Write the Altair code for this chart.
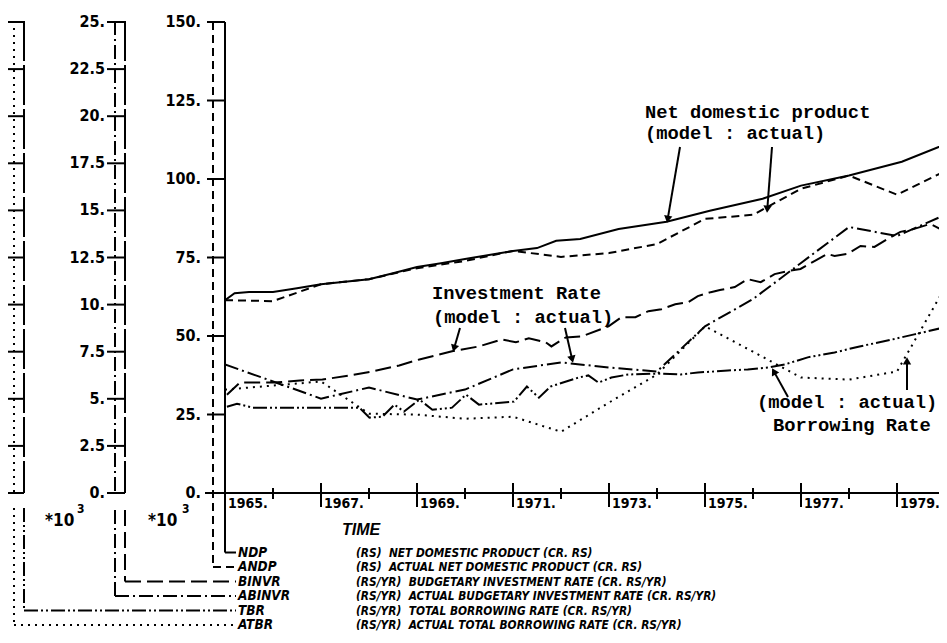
import math
import altair as alt
import pandas as pd

# ---------------- data ----------------
YEARS = list(range(1965, 1981))
ANDP = [61.4, 61.1, 66.5, 68.1, 71.6, 73.9, 77.1, 75.2, 76.4, 79.3, 87.3, 88.6, 96.9, 101.1, 95.0, 102.5]
ABINVR = [6.82, 5.92, 5.01, 5.60, 4.96, 5.49, 6.56, 6.93, 6.66, 6.45, 8.85, 10.29, 12.21, 14.12, 13.64, 14.76]
ATBR = [5.49, 5.70, 5.92, 4.21, 4.16, 3.94, 4.05, 3.25, 4.80, 6.29, 8.85, 7.50, 6.13, 6.02, 6.45, 10.9]

NDP_T = [1965.0, 1965.2, 1965.5, 1966.0, 1966.5, 1967.0, 1967.5, 1968.0, 1968.5, 1969.0, 1969.5,
         1970.0, 1970.5, 1971.0, 1971.5, 1971.9, 1972.4, 1973.2, 1974.2, 1975.1, 1976.2, 1977.0,
         1978.0, 1979.1, 1980.0]
NDP = [61.4, 63.6, 64.0, 64.0, 65.2, 66.5, 67.3, 68.1, 70.0, 72.0, 73.2,
       74.5, 75.8, 77.1, 78.0, 80.3, 80.9, 84.1, 86.4, 89.9, 93.7, 97.9,
       101.1, 105.5, 111.0]

BINVR_T = [1965.04, 1965.31, 1966.0, 1966.56, 1967.03, 1967.59, 1968.07, 1968.63, 1969.05, 1969.73,
           1970.29, 1970.77, 1971.06, 1971.33, 1971.68, 1971.8, 1972.1, 1972.43, 1972.99, 1973.26,
           1973.55, 1973.82, 1974.09, 1974.38, 1974.65, 1974.85, 1975.12, 1975.31, 1975.62, 1975.89,
           1976.16, 1976.45, 1976.72, 1976.99, 1977.28, 1977.55, 1977.7, 1977.97, 1978.24, 1978.53,
           1978.8, 1979.07, 1979.36, 1979.69, 1979.9]
BINVR = [5.22, 5.86, 5.86, 5.97, 6.02, 6.24, 6.45, 6.77, 7.09, 7.52,
         7.78, 8.15, 8.00, 8.21, 8.00, 7.78, 8.26, 8.31, 8.85, 9.33,
         9.33, 9.65, 9.75, 10.02, 10.13, 10.45, 10.66, 10.77, 10.93, 11.35,
         11.19, 11.62, 11.78, 11.89, 12.31, 12.69, 12.58, 12.69, 13.11, 13.06,
         13.48, 13.86, 14.02, 14.28, 14.02]

TBR_T = [1965.04, 1965.25, 1965.58, 1967.8, 1968.01, 1968.28, 1968.53, 1968.73, 1969.05, 1969.32,
         1969.73, 1970.02, 1970.29, 1971.02, 1971.29, 1971.54, 1971.78, 1972.37, 1972.57, 1972.78,
         1973.05, 1973.4, 1974.02, 1974.5, 1974.85, 1975.2, 1975.48, 1975.89, 1976.31, 1976.66,
         1977.14, 1977.7, 1978.22, 1978.73, 1979.36, 1979.9]
TBR = [4.58, 4.74, 4.53, 4.53, 4.00, 4.05, 4.69, 4.32, 4.96, 4.42,
       4.53, 5.22, 4.69, 4.85, 5.65, 5.06, 5.65, 6.13, 6.24, 5.86,
       6.13, 6.29, 6.34, 6.29, 6.40, 6.45, 6.50, 6.56, 6.66, 6.82,
       7.20, 7.46, 7.78, 8.05, 8.42, 8.74]

MAIN_TICKS = [0, 25, 50, 75, 100, 125, 150]
MAIN_TICK_LABELS = ["0.", "25.", "50.", "75.", "100.", "125.", "150."]
SUB_TICKS = [0, 2.5, 5, 7.5, 10, 12.5, 15, 17.5, 20, 22.5, 25]
SUB_TICK_LABELS = ["0.", "2.5", "5.", "7.5", "10.", "12.5", "15.", "17.5", "20.", "22.5", "25."]
MAJOR_YEARS = [1965, 1967, 1969, 1971, 1973, 1975, 1977, 1979]
MAJOR_YEAR_LABELS = ["1965.", "1967.", "1969.", "1971.", "1973.", "1975.", "1977.", "1979."]
MINOR_YEARS = [1966, 1968, 1970, 1972, 1974, 1976, 1978]

LEGEND_NAMES = ["NDP", "ANDP", "BINVR", "ABINVR", "TBR", "ATBR"]
NB = "\u00a0"
LEGEND_DESCS = [
    "(RS)" + NB + NB + "NET DOMESTIC PRODUCT (CR. RS)",
    "(RS)" + NB + NB + "ACTUAL NET DOMESTIC PRODUCT (CR. RS)",
    "(RS/YR)" + NB + NB + "BUDGETARY INVESTMENT RATE (CR. RS/YR)",
    "(RS/YR)" + NB + NB + "ACTUAL BUDGETARY INVESTMENT RATE (CR. RS/YR)",
    "(RS/YR)" + NB + NB + "TOTAL BORROWING RATE (CR. RS/YR)",
    "(RS/YR)" + NB + NB + "ACTUAL TOTAL BORROWING RATE (CR. RS/YR)",
]

# ---------------- layout / style ----------------
W, H = 714, 471
X0, Y0 = 225, 22           # page position of the plot origin


def P(x):
    return x - X0


def Q(y):
    return y - Y0


NARROW = "Liberation Sans Narrow, DejaVu Sans Condensed, Liberation Sans, sans-serif"
MONO = "Liberation Mono, DejaVu Sans Mono, monospace"
STYLE = {
    "NDP": [],
    "ANDP": [8, 5],
    "BINVR": [16, 6],
    "ABINVR": [14, 4, 2, 4],
    "TBR": [14, 3, 2, 3, 2, 3],
    "ATBR": [2, 5],
}

xs = alt.Scale(domain=[1965, 1965 + W / 48.0], nice=False, zero=False)
ysA = alt.Scale(domain=[0, 150], nice=False, zero=False)
ysB = alt.Scale(domain=[0, 25], nice=False, zero=False)
ONE = pd.DataFrame({"a": [0]})


def series(t, v, name, scale):
    df = pd.DataFrame({"t": t, "v": v})
    kw = dict(clip=True, color="black", strokeWidth=2)
    if STYLE[name]:
        kw["strokeDash"] = STYLE[name]
    return alt.Chart(df).mark_line(**kw).encode(
        x=alt.X("t:Q", scale=xs, axis=None),
        y=alt.Y("v:Q", scale=scale, axis=None),
    )


def vrule(x, y1, y2, dash=None, w=2):
    kw = dict(color="black", strokeWidth=w)
    if dash:
        kw["strokeDash"] = dash
    return alt.Chart(ONE).mark_rule(**kw).encode(
        x=alt.value(P(x)), y=alt.value(Q(y1)), y2=alt.value(Q(y2)))


def hrule(y, x1, x2, dash=None, w=2):
    kw = dict(color="black", strokeWidth=w)
    if dash:
        kw["strokeDash"] = dash
    return alt.Chart(ONE).mark_rule(**kw).encode(
        y=alt.value(Q(y)), x=alt.value(P(x1)), x2=alt.value(P(x2)))


def text(s, x, y, size, font=NARROW, weight="bold", style="normal", align="left"):
    return alt.Chart(ONE).mark_text(
        text=s, font=font, fontSize=size, fontWeight=weight, fontStyle=style,
        align=align, baseline="middle", color="black",
    ).encode(x=alt.value(P(x)), y=alt.value(Q(y)))


def arrow(x1, y1, x2, y2):
    dx, dy = x2 - x1, y2 - y1
    ang = math.degrees(math.atan2(dx, -dy)) % 360
    L = math.hypot(dx, dy)
    hx, hy = x2 - dx / L * 5, y2 - dy / L * 5
    line = alt.Chart(ONE).mark_rule(color="black", strokeWidth=2).encode(
        x=alt.value(P(x1)), y=alt.value(Q(y1)), x2=alt.value(P(hx)), y2=alt.value(Q(hy)))
    head = alt.Chart(ONE).mark_point(shape="triangle", filled=True, color="black",
                                     size=70, angle=ang, opacity=1).encode(
        x=alt.value(P(hx)), y=alt.value(Q(hy)))
    return [line, head]


# ---------------- group A: 0-150 scale ----------------
dfA_ticks = pd.DataFrame({"v": MAIN_TICKS, "lab": MAIN_TICK_LABELS})
groupA = alt.layer(
    series(NDP_T, NDP, "NDP", ysA),
    series(YEARS, ANDP, "ANDP", ysA),
    alt.Chart(dfA_ticks).mark_rule(color="black", strokeWidth=2).encode(
        y=alt.Y("v:Q", scale=ysA, axis=None), x=alt.value(P(207)), x2=alt.value(P(225))),
    alt.Chart(dfA_ticks).mark_text(font=NARROW, fontSize=16, fontWeight="bold",
                                   align="right", baseline="middle", color="black").encode(
        y=alt.Y("v:Q", scale=ysA, axis=None), text="lab:N", x=alt.value(P(201))),
)

# ---------------- group B: 0-25 scale ----------------
dfB_ticks = pd.DataFrame({"v": SUB_TICKS, "lab": SUB_TICK_LABELS})
groupB = alt.layer(
    series(BINVR_T, BINVR, "BINVR", ysB),
    series(YEARS, ABINVR, "ABINVR", ysB),
    series(TBR_T, TBR, "TBR", ysB),
    series(YEARS, ATBR, "ATBR", ysB),
    alt.Chart(dfB_ticks).mark_rule(color="black", strokeWidth=2).encode(
        y=alt.Y("v:Q", scale=ysB, axis=None), x=alt.value(P(107)), x2=alt.value(P(125))),
    alt.Chart(dfB_ticks).mark_rule(color="black", strokeWidth=2).encode(
        y=alt.Y("v:Q", scale=ysB, axis=None), x=alt.value(P(8)), x2=alt.value(P(24))),
    alt.Chart(dfB_ticks).mark_text(font=NARROW, fontSize=16, fontWeight="bold",
                                   align="right", baseline="middle", color="black").encode(
        y=alt.Y("v:Q", scale=ysB, axis=None), text="lab:N", x=alt.value(P(105))),
)

# ---------------- group C: time axis, axis lines, legend, notes ----------------
dfMaj = pd.DataFrame({"t": MAJOR_YEARS, "lab": MAJOR_YEAR_LABELS})
dfMin = pd.DataFrame({"t": MINOR_YEARS})
ROWS = [552.5, 567, 581.5, 596, 610.5, 625]
deco = [
    hrule(493, 205, X0 + W),
    alt.Chart(dfMaj).mark_rule(color="black", strokeWidth=2).encode(
        x=alt.X("t:Q", scale=xs, axis=None), y=alt.value(Q(483)), y2=alt.value(Q(507))),
    alt.Chart(dfMin).mark_rule(color="black", strokeWidth=2).encode(
        x=alt.X("t:Q", scale=xs, axis=None), y=alt.value(Q(488)), y2=alt.value(Q(499))),
    alt.Chart(dfMaj).mark_text(font=NARROW, fontSize=14, fontWeight="bold", align="left",
                               baseline="middle", dx=3, color="black").encode(
        x=alt.X("t:Q", scale=xs, axis=None), y=alt.value(Q(504)), text="lab:N"),
    text("TIME", 342, 530, 16, font="Liberation Sans, sans-serif", style="italic"),
    # axis lines (double lines)
    vrule(225, 22, ROWS[0]),
    vrule(213, 22, ROWS[1], STYLE["ANDP"]),
    vrule(125, 21, 493, [40, 4]),
    vrule(115, 21, 493, STYLE["ABINVR"]),
    vrule(24, 21, 493, [40, 4]),
    vrule(14, 21, 493, STYLE["ATBR"]),
    # legend connectors
    hrule(ROWS[0], 225, 236),
    hrule(ROWS[1], 213, 236, STYLE["ANDP"]),
    vrule(125, 510, ROWS[2], STYLE["BINVR"]),
    hrule(ROWS[2], 125, 236, STYLE["BINVR"]),
    vrule(115, 510, ROWS[3], STYLE["ABINVR"]),
    hrule(ROWS[3], 115, 236, STYLE["ABINVR"]),
    vrule(24, 508, ROWS[4], STYLE["TBR"]),
    hrule(ROWS[4], 24, 236, STYLE["TBR"]),
    vrule(14, 508, ROWS[5], STYLE["ATBR"]),
    hrule(ROWS[5], 14, 236, STYLE["ATBR"]),
    # *10^3
    text("*10", 45, 521, 17),
    text("3", 77, 509, 12),
    text("*10", 148, 521, 17),
    text("3", 182, 509, 12),
]
for name, desc, ry in zip(LEGEND_NAMES, LEGEND_DESCS, ROWS):
    deco.append(text(name, 238, ry, 13.5, style="italic"))
    deco.append(text(desc, 356, ry, 11.8, style="italic"))

# annotations
NOTE = 18.8
deco += [
    text("Net domestic product", 645, 112, NOTE, font=MONO),
    text("(model : actual)", 645, 133, NOTE, font=MONO),
    text("Investment Rate", 432, 293, NOTE, font=MONO),
    text("(model : actual)", 433, 317, NOTE, font=MONO),
    text("(model : actual)", 757, 402, NOTE, font=MONO),
    text("Borrowing Rate", 773, 425, NOTE, font=MONO),
]
for a in [(680, 147, 667, 223), (772, 147, 767, 213), (460, 328, 453, 352),
          (565, 328, 573, 363), (788, 397, 772, 368), (907, 390, 907, 357)]:
    deco += arrow(*a)

groupC = alt.layer(*deco)

chart = alt.layer(groupA, groupB, groupC).resolve_scale(y="independent").properties(
    width=W, height=H,
    padding={"left": X0 - 8, "top": Y0 - 8, "right": 0, "bottom": 142},
    autosize=alt.AutoSizeParams(type="none"),
    background="white",
).configure_view(stroke=None)

chart.save("out.html", embed_options={"renderer": "svg", "actions": False})
